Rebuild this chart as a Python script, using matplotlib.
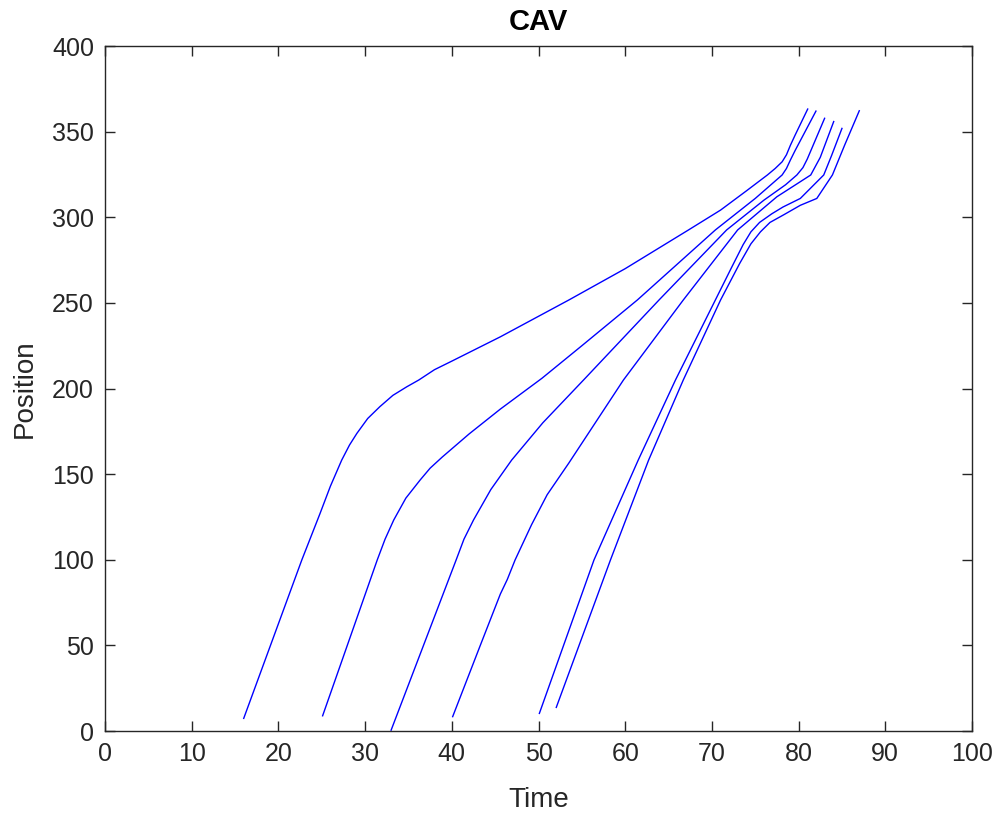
import matplotlib
matplotlib.use("Agg")
import matplotlib.pyplot as plt

plt.rcParams['font.family'] = ['Liberation Sans', 'DejaVu Sans']

# Trajectories (Time, Position) of six vehicles
t1 = [16.0, 22.7, 24.8, 26.0, 27.3, 28.2, 29.05, 30.3, 31.7, 33.2, 34.8, 36.2, 38.0, 40.0, 45.6,
      53.5, 60.0, 67.3, 71.0, 74.0, 76.4, 77.3, 78.1, 78.6, 79.05, 79.6, 81.05]
p1 = [7.4, 99.9, 127.0, 143.0, 158.2, 167.0, 173.8, 182.5, 189.4, 196.0, 201.0, 205.0, 211.0, 216.0, 230.2,
      251.7, 270.0, 292.6, 304.2, 315.5, 324.7, 328.5, 332.4, 336.5, 342.0, 348.0, 363.2]

t2 = [25.1, 31.4, 32.3, 33.3, 34.7, 36.35, 37.5, 38.9, 42.0, 45.6, 50.4, 55.0, 61.4, 70.4, 75.0,
      78.1, 78.6, 79.05, 79.6, 82.0]
p2 = [8.9, 99.9, 112.0, 123.2, 136.0, 146.6, 153.5, 160.0, 173.5, 188.0, 206.0, 225.0, 251.7, 292.6, 311.0,
      324.7, 328.5, 333.4, 339.0, 362.0]

t3 = [33.0, 40.5, 41.4, 42.5, 44.5, 46.9, 50.5, 55.2, 63.9, 71.7, 76.0, 78.5, 79.8, 80.5, 81.0, 83.0]
p3 = [0.5, 99.9, 112.0, 123.2, 141.0, 158.2, 180.0, 205.0, 251.7, 292.6, 310.0, 319.0, 324.7, 329.0, 334.0, 357.8]

t4 = [40.1, 43.3, 45.6, 46.4, 47.3, 49.2, 51.0, 53.5, 59.8, 66.7, 72.97, 77.5, 79.5, 81.4, 82.5, 84.05]
p4 = [8.4, 50.2, 80.0, 88.5, 99.9, 120.5, 138.0, 156.5, 205.0, 251.7, 292.6, 312.0, 318.5, 324.7, 335.0, 355.9]

t5 = [50.1, 56.4, 61.5, 65.8, 70.4, 72.3, 73.6, 74.5, 75.5, 76.9, 78.2, 80.2, 82.9, 83.8, 85.0]
p5 = [10.3, 99.9, 158.2, 205.0, 251.7, 271.0, 284.0, 291.5, 297.0, 302.0, 306.0, 311.0, 324.7, 336.0, 351.9]

t6 = [52.05, 58.3, 62.7, 66.7, 71.0, 73.2, 74.5, 75.6, 76.7, 78.3, 80.2, 82.1, 83.9, 85.3, 87.0]
p6 = [13.8, 99.9, 158.2, 205.0, 251.7, 273.0, 284.5, 291.5, 297.0, 301.5, 307.0, 311.0, 324.7, 342.0, 362.2]

xticks = list(range(0, 101, 10))
yticks = list(range(0, 401, 50))

fig = plt.figure(figsize=(10, 8.19), dpi=100)
ax = fig.add_axes([0.105, 0.1074, 0.867, 0.8364])

for t, p in [(t1, p1), (t2, p2), (t3, p3), (t4, p4), (t5, p5), (t6, p6)]:
    ax.plot(t, p, color=(0, 0, 1), lw=1.0, solid_joinstyle='round')

ax.set_xlim(0, 100)
ax.set_ylim(0, 400)
ax.set_xticks(xticks)
ax.set_yticks(yticks)
ax.tick_params(direction='in', length=7, width=1.0, colors='#262626',
               labelsize=18, top=True, right=True, pad=8)
for s in ax.spines.values():
    s.set_color('#262626')
    s.set_linewidth(1.0)

ax.set_xlabel('Time', fontsize=20, color='#262626', va='center')
ax.xaxis.set_label_coords(0.5, -0.1007)
ax.set_ylabel('Position', fontsize=20, color='#262626', va='center')
ax.yaxis.set_label_coords(-0.0923, 0.5)
fig.text(0.5385, 1 - 22 / 819, 'CAV', fontsize=21, fontweight='bold',
         ha='center', va='center', color='black')

fig.savefig('out.png', dpi=100)
